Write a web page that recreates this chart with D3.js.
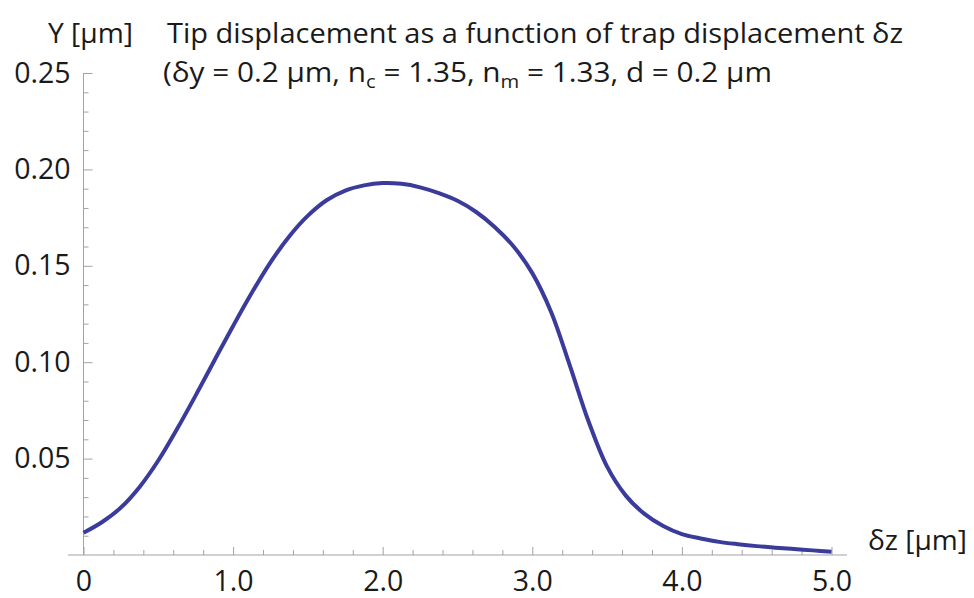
<!DOCTYPE html>
<html>
<head>
<meta charset="utf-8">
<script src="https://cdn.jsdelivr.net/npm/d3@7"></script>
<style>
  html, body { margin: 0; padding: 0; background: #ffffff; }
  svg { display: block; }
  text { font-family: "Open Sans", "DejaVu Sans", sans-serif; fill: #1a1a1a; }
</style>
</head>
<body>
<svg id="chart" width="974" height="598"></svg>
<script>
// ---- data ----
const dz   = [0, 0.125, 0.25, 0.375, 0.5, 0.625, 0.75, 0.875, 1.0, 1.125, 1.25, 1.375, 1.5, 1.625, 1.75, 1.875,
              2.0, 2.125, 2.25, 2.375, 2.5, 2.625, 2.75, 2.875, 3.0, 3.125, 3.25, 3.375, 3.5, 3.625, 3.75, 3.875,
              4.0, 4.125, 4.25, 4.375, 4.5, 4.625, 4.75, 4.875, 5.0];
const tipY = [0.0115, 0.0171, 0.0246, 0.0353, 0.0490, 0.0653, 0.0828, 0.1009, 0.1188, 0.1360, 0.1518, 0.1652, 0.1760, 0.1840, 0.1890, 0.1917,
              0.1929, 0.1925, 0.1907, 0.1877, 0.1837, 0.1779, 0.1700, 0.1600, 0.1462, 0.1262, 0.0985, 0.0695, 0.0458, 0.0308, 0.0213, 0.0150,
              0.0108, 0.0086, 0.0068, 0.0056, 0.0046, 0.0038, 0.0031, 0.0024, 0.0017];
const xTicks = [0, 1, 2, 3, 4, 5];
const xTickLabels = ["0", "1.0", "2.0", "3.0", "4.0", "5.0"];
const yTicks = [0.05, 0.10, 0.15, 0.20, 0.25];
const yTickLabels = ["0.05", "0.10", "0.15", "0.20", "0.25"];
const titleLine1 = "Tip displacement as a function of trap displacement δz";
const yAxisTitle = "Y [μm]";
const xAxisTitle = "δz [μm]";

const svg = d3.select("#chart");
const axisColor = "#a3a3a3";
const lineColor = "#3b3b9c";

const x = d3.scaleLinear().domain([0, 5]).range([83.5, 831.5]);
const y = d3.scaleLinear().domain([0, 0.25]).range([555, 73]);

// x axis: minor ticks
const xMinor = d3.range(0, 5.0001, 0.2).filter(v => Math.abs(v - Math.round(v)) > 1e-6);
const gxm = svg.append("g").attr("transform", `translate(0,${y(0)})`)
  .call(d3.axisBottom(x).tickValues(xMinor).tickSizeInner(-5).tickSizeOuter(0).tickFormat(""));
gxm.select(".domain").remove();
gxm.selectAll("line").attr("stroke", axisColor);

const gx = svg.append("g").attr("transform", `translate(0,${y(0)})`)
  .call(d3.axisBottom(x).tickValues(xTicks).tickSizeInner(-8).tickSizeOuter(0).tickPadding(16)
    .tickFormat((d, i) => xTickLabels[i]));
gx.select(".domain").remove();
gx.selectAll("line").attr("stroke", axisColor);
gx.selectAll("text").attr("font-size", 28.5).attr("fill", "#1a1a1a")
  .style("font-family", '"Open Sans", sans-serif');

svg.append("line").attr("x1", 68).attr("x2", 847).attr("y1", y(0)).attr("y2", y(0))
  .attr("stroke", axisColor).attr("stroke-width", 1);

// y axis
const yMinor = d3.range(0.01, 0.2501, 0.01).filter(v => Math.abs(v * 20 - Math.round(v * 20)) > 1e-6);
const gym = svg.append("g").attr("transform", `translate(${x(0)},0)`)
  .call(d3.axisLeft(y).tickValues(yMinor).tickSizeInner(-5).tickSizeOuter(0).tickFormat(""));
gym.select(".domain").remove();
gym.selectAll("line").attr("stroke", axisColor);

const gy = svg.append("g").attr("transform", `translate(${x(0)},0)`)
  .call(d3.axisLeft(y).tickValues(yTicks).tickSizeInner(-9).tickSizeOuter(0).tickPadding(13)
    .tickFormat((d, i) => yTickLabels[i]));
gy.select(".domain").remove();
gy.selectAll("line").attr("stroke", axisColor);
gy.selectAll("text").attr("font-size", 28.5).attr("fill", "#1a1a1a")
  .style("font-family", '"Open Sans", sans-serif');

svg.append("line").attr("x1", x(0)).attr("x2", x(0)).attr("y1", y(0.25)).attr("y2", y(0))
  .attr("stroke", axisColor).attr("stroke-width", 1);

// curve
const line = d3.line().x((d, i) => x(dz[i])).y(d => y(d)).curve(d3.curveCatmullRom.alpha(0.5));
svg.append("path").datum(tipY).attr("d", line)
  .attr("fill", "none").attr("stroke", lineColor).attr("stroke-width", 4)
  .attr("stroke-linecap", "butt");

// titles
svg.append("text").attr("x", 48).attr("y", 43).attr("font-size", 28)
  .attr("textLength", 85).attr("lengthAdjust", "spacingAndGlyphs").text(yAxisTitle);

svg.append("text").attr("x", 167).attr("y", 43).attr("font-size", 28)
  .attr("textLength", 736).attr("lengthAdjust", "spacingAndGlyphs").text(titleLine1);

const t2 = svg.append("text").attr("x", 163).attr("y", 82).attr("font-size", 28)
  .attr("textLength", 609).attr("lengthAdjust", "spacingAndGlyphs");
t2.append("tspan").text("(δy = 0.2 μm, n");
t2.append("tspan").attr("font-size", 19).attr("dy", 6).text("c");
t2.append("tspan").attr("dy", -6).text(" = 1.35, n");
t2.append("tspan").attr("font-size", 19).attr("dy", 6).text("m");
t2.append("tspan").attr("dy", -6).text(" = 1.33, d = 0.2 μm");

svg.append("text").attr("x", 868).attr("y", 550).attr("font-size", 28)
  .attr("textLength", 99).attr("lengthAdjust", "spacingAndGlyphs").text(xAxisTitle);
</script>
</body>
</html>
